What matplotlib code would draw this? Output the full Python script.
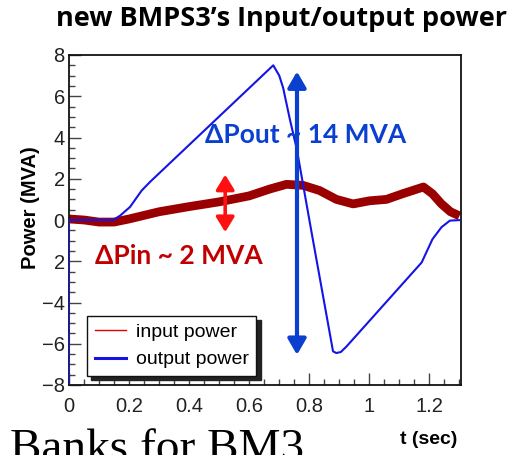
import matplotlib
matplotlib.use("Agg")
import matplotlib.pyplot as plt
from matplotlib.lines import Line2D
from matplotlib.patches import FancyArrowPatch
from matplotlib.ticker import MultipleLocator, FixedLocator

# Output power (MVA) vs time (s)
t_out = [0.0, 0.0, 0.147, 0.17, 0.203, 0.242, 0.27, 0.68, 0.70, 0.713, 0.735, 0.758,
         0.81, 0.879, 0.89, 0.905, 0.924, 1.174, 1.21, 1.24, 1.268, 1.307]
p_out = [-8.0, 0.0, 0.0, 0.21, 0.63, 1.43, 1.85, 7.5, 7.0, 6.4, 4.9, 3.46,
         -0.8, -6.37, -6.45, -6.4, -6.13, -2.06, -0.93, -0.35, -0.03, 0.0]

# Input power (MVA) vs time (s)
t_in = [0.0, 0.05, 0.1, 0.15, 0.2, 0.3, 0.4, 0.5, 0.6, 0.668, 0.724, 0.779, 0.834,
        0.89, 0.946, 1.0, 1.057, 1.11, 1.18, 1.21, 1.24, 1.27, 1.3]
p_in = [0.05, 0.0, -0.1, -0.1, 0.05, 0.4, 0.65, 0.88, 1.17, 1.5, 1.73, 1.68, 1.43,
        1.0, 0.78, 0.93, 1.0, 1.27, 1.6, 1.27, 0.78, 0.4, 0.2]

# Swing annotations
dpout_t, dpout_lo, dpout_hi = 0.759, -6.54, 7.2
dpin_t, dpin_lo, dpin_hi = 0.52, -0.59, 2.2

x_ticks = [0, 0.2, 0.4, 0.6, 0.8, 1.0, 1.2]
x_labels = ["0", "0.2", "0.4", "0.6", "0.8", "1", "1.2"]
y_ticks = [-8, -6, -4, -2, 0, 2, 4, 6, 8]
y_labels = ["\u22128", "\u22126", "\u22124", "2", "0", "2", "4", "6", "8"]

sans = ["Liberation Sans", "DejaVu Sans"]
head = ["Lato", "DejaVu Sans"]
title_font = ["Open Sans", "DejaVu Sans"]

fig = plt.figure(figsize=(5.23, 4.55), dpi=100)
ax = fig.add_axes([69 / 523, 70 / 455, 392 / 523, 330 / 455])

ax.plot(t_in, p_in, color="#9b0000", lw=6.3, solid_capstyle="butt",
        solid_joinstyle="round", zorder=2)
ax.plot(t_out, p_out, color="#1414e6", lw=1.5, zorder=3)

ax.set_xlim(0, 1.305)
ax.set_ylim(-8, 8)

ax.xaxis.set_major_locator(FixedLocator(x_ticks))
ax.set_xticklabels(x_labels)
ax.xaxis.set_minor_locator(MultipleLocator(0.05))
ax.yaxis.set_major_locator(FixedLocator(y_ticks))
ax.set_yticklabels(y_labels)
ax.yaxis.set_minor_locator(MultipleLocator(0.5))

ax.tick_params(which="both", direction="in", top=False, right=False,
               color="#444444", width=1.0)
ax.tick_params(which="major", length=8.6)
ax.tick_params(which="minor", length=4.3)
ax.tick_params(axis="y", which="major", pad=3)
ax.tick_params(axis="x", which="major", pad=9)
for lab in ax.get_xticklabels() + ax.get_yticklabels():
    lab.set_family(sans)
    lab.set_fontsize(14.5)
    lab.set_color("#222222")

for s in ax.spines.values():
    s.set_linewidth(1.3)
    s.set_color("#111111")

# Swing arrows
blue_arrow = FancyArrowPatch((dpout_t, dpout_lo), (dpout_t, dpout_hi),
                             arrowstyle="<|-|>,head_length=0.95,head_width=0.55",
                             mutation_scale=10, lw=3.0, color="#0a3fd0",
                             shrinkA=0, shrinkB=0, zorder=6)
ax.add_patch(blue_arrow)
red_arrow = FancyArrowPatch((dpin_t, dpin_lo), (dpin_t, dpin_hi),
                            arrowstyle="<|-|>,head_length=0.9,head_width=0.55",
                            mutation_scale=10, lw=2.6, color="#ff1010",
                            shrinkA=0, shrinkB=0, zorder=6)
ax.add_patch(red_arrow)

ax.text(0.787, 4.1, "\u0394Pout ~ 14 MVA", color="#0a3fd0", fontsize=19,
        fontweight="bold", family=head, ha="center", va="center", zorder=5)
ax.text(0.366, -1.76, "\u0394Pin ~ 2 MVA", color="#c00000", fontsize=19,
        fontweight="bold", family=head, ha="center", va="center", zorder=5)

handles = [Line2D([], [], color="#e00000", lw=1.0),
           Line2D([], [], color="#1414e6", lw=2.2)]
leg = ax.legend(handles, ["input power", "output power"], loc="lower left",
                bbox_to_anchor=(0.046, 0.027), borderaxespad=0, fancybox=False,
                framealpha=1, edgecolor="#111111",
                prop={"family": sans, "size": 14}, handlelength=1.6,
                handletextpad=0.5, labelspacing=0.5, borderpad=0.4,
                shadow={"color": "#222222", "alpha": 1.0, "ox": 3, "oy": -3})
leg.get_frame().set_linewidth(1.0)
leg.set_zorder(7)

ax.set_ylabel("Power (MVA)", fontsize=14.5, fontweight="bold", family=sans)
ax.yaxis.set_label_coords(-0.074, 0.536)

fig.text(0.538, 0.958, "new BMPS3\u2019s Input/output power", ha="center",
         va="center", fontsize=19.5, fontweight="bold", family=title_font)
fig.text(0.82, 0.033, "t (sec)", ha="center", va="center", fontsize=14,
         fontweight="bold", family=sans)
fig.text(0.019, -0.013, "Banks for BM3", ha="left", va="baseline",
         fontsize=34, family=["Liberation Serif", "DejaVu Serif"])

fig.savefig("out.png", dpi=100)
